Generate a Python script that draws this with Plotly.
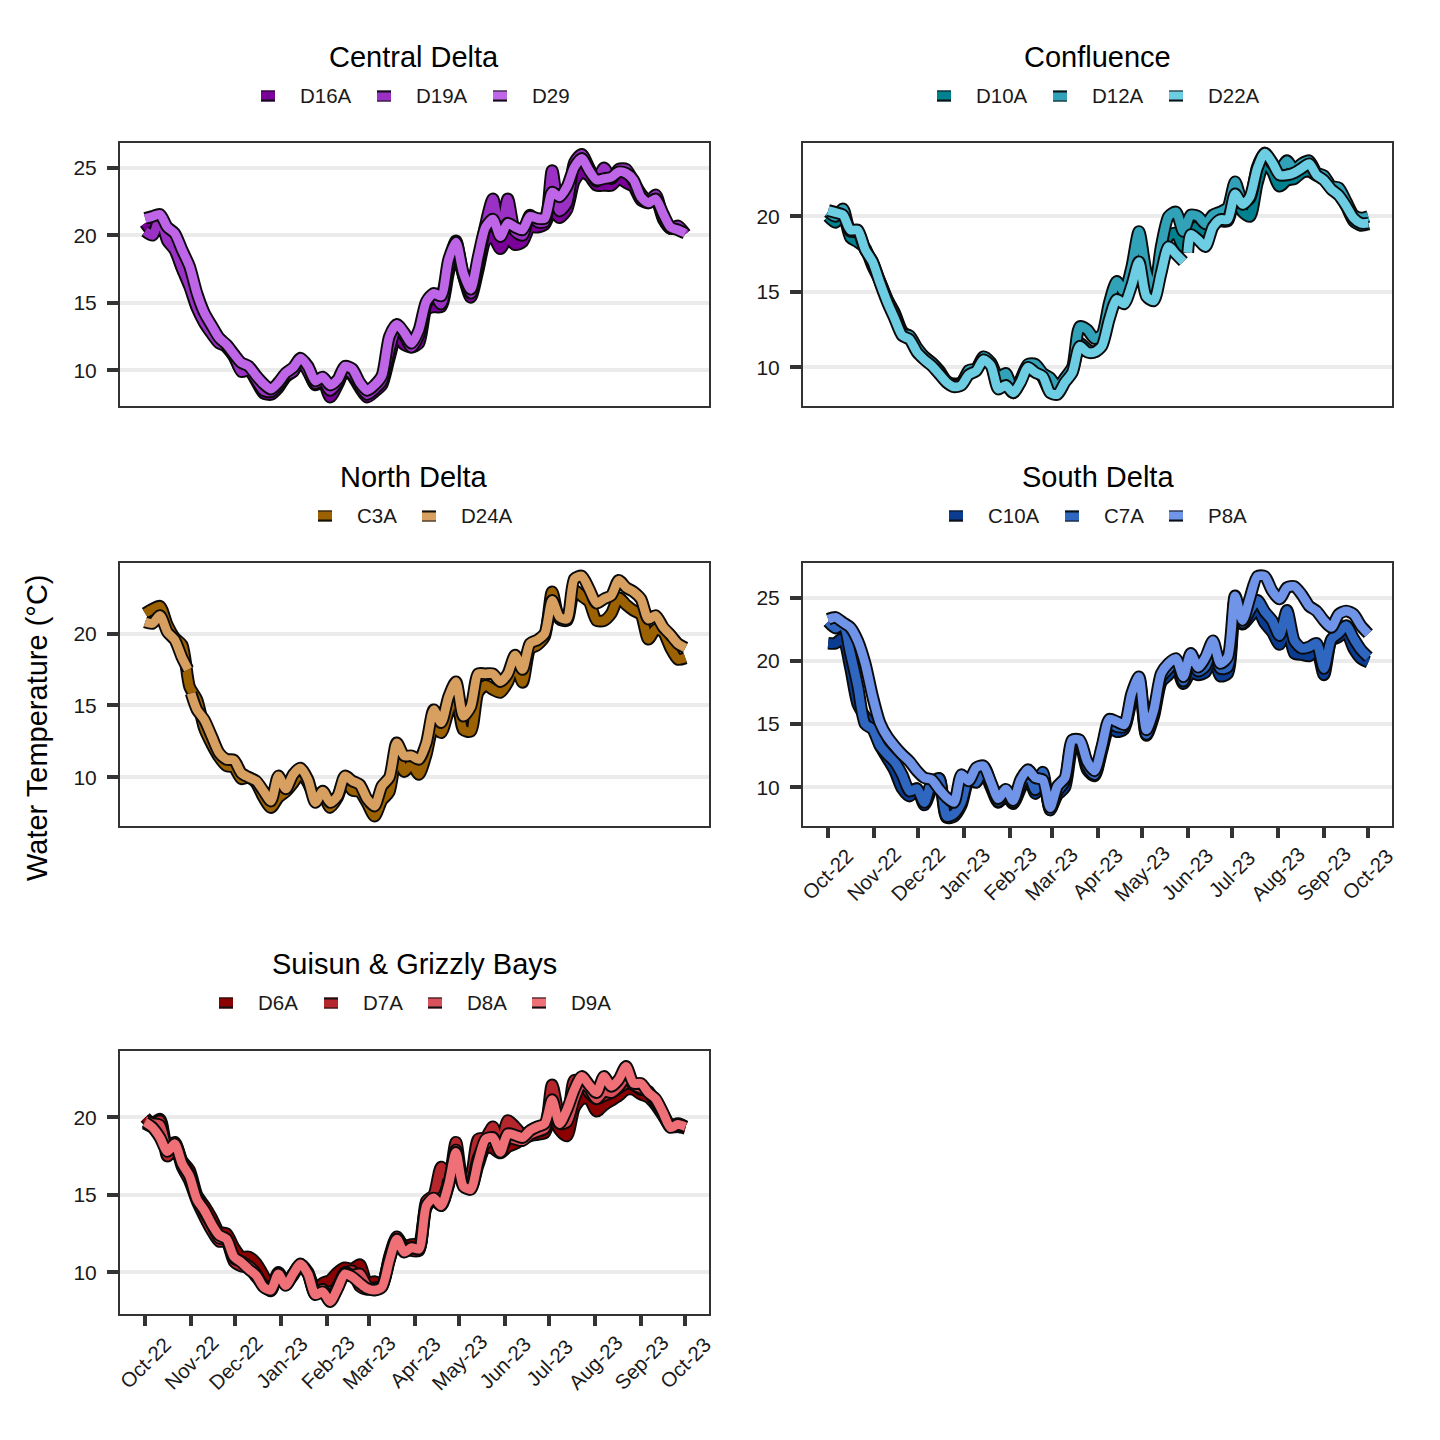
import datetime as dt
import plotly.graph_objects as go

START = dt.date(2022, 10, 1)
DAYS = list(range(0, 370, 5))
D22A_DAYS = list(range(0, 245, 5)) + [241, 243] + list(range(245, 370, 5))
D24A_DAYS = list(range(0, 30, 5)) + [29, 30, 31] + list(range(35, 370, 5))

MONTH_TICKS = ["2022-10-01","2022-11-01","2022-12-01","2023-01-01","2023-02-01","2023-03-01","2023-04-01","2023-05-01","2023-06-01","2023-07-01","2023-08-01","2023-09-01","2023-10-01"]
MONTH_LABELS = ["Oct-22","Nov-22","Dec-22","Jan-23","Feb-23","Mar-23","Apr-23","May-23","Jun-23","Jul-23","Aug-23","Sep-23","Oct-23"]

D16A = [20.9,20.3,21.0,19.9,19.2,17.6,16.9,15.2,13.8,12.9,12.2,11.7,11.0,10.0,10.1,9.2,8.3,8.2,8.7,9.5,9.9,10.7,10.0,8.9,9.2,8.0,8.9,10.0,9.6,8.7,8.0,8.4,8.9,10.9,12.6,11.9,11.7,12.0,14.5,14.7,14.7,17.2,19.2,17.0,15.4,17.4,19.6,19.9,19.0,19.8,19.3,19.5,20.6,20.6,20.8,21.9,21.3,21.9,24.0,24.7,24.4,23.7,23.7,23.7,24.2,23.9,23.6,22.6,22.4,22.7,21.2,20.5,20.6,20.1]
D19A = [20.3,20.0,21.3,19.6,18.9,17.5,16.2,14.6,13.5,12.7,12.0,11.8,11.1,9.9,10.0,9.3,8.5,8.4,8.9,9.6,9.9,10.8,9.9,9.0,9.3,8.5,9.1,10.0,9.7,8.9,8.2,8.6,9.2,11.5,13.2,12.6,11.7,12.6,14.9,15.6,14.9,17.6,19.6,17.0,15.7,17.9,20.8,22.7,20.0,22.7,20.3,20.0,21.5,21.0,21.0,24.8,21.8,22.4,25.4,26.0,25.0,24.0,25.0,24.2,24.9,24.9,24.0,23.1,22.5,23.0,21.3,20.5,20.7,20.1]
D29 = [21.25,21.4,21.55,20.6,20.15,18.9,17.7,15.7,14.25,13.3,12.4,11.9,11.2,10.55,10.3,9.6,9.0,8.6,9.1,9.8,10.2,10.9,10.3,9.2,9.5,8.9,9.3,10.3,10.1,9.1,8.5,8.9,9.6,12.5,13.4,12.8,12.0,13.0,15.1,15.7,15.5,18.2,19.5,17.2,16.0,18.4,20.6,21.2,19.9,20.9,20.6,20.4,21.4,21.25,21.25,23.2,22.85,23.6,25.05,25.7,24.8,24.1,24.2,24.3,24.7,24.6,24.1,22.85,22.4,22.7,21.6,20.6,20.4,20.15]

D10A = [20.0,19.6,20.2,18.6,18.3,17.9,16.7,15.7,14.5,13.6,12.4,12.0,11.2,10.7,10.3,9.8,9.1,8.9,9.0,9.7,9.9,10.6,10.2,8.7,8.9,8.3,9.1,10.1,9.9,9.3,8.4,8.4,9.1,9.7,11.6,11.2,11.0,11.5,13.5,14.8,14.6,15.6,17.6,15.2,14.8,16.8,18.7,18.9,18.0,19.1,19.3,19.0,19.6,19.7,19.7,21.4,20.3,20.0,22.2,23.6,23.0,22.0,22.4,22.5,22.9,23.0,22.7,22.6,21.9,21.6,20.7,19.7,19.4,19.5]
D12A = [20.3,20.0,20.5,19.0,19.0,17.8,17.0,15.7,14.5,13.5,12.2,12.1,11.3,10.7,10.3,9.7,9.0,8.8,8.9,9.8,9.9,10.7,10.3,9.3,9.6,8.5,9.2,10.2,10.2,9.6,9.3,8.7,9.3,10.0,12.7,12.5,11.9,12.2,14.3,15.7,15.0,16.6,19.0,16.3,15.0,18.0,20.0,20.3,19.0,20.1,20.0,19.5,20.1,20.3,20.6,22.3,21.0,21.2,23.3,24.2,23.5,23.1,23.7,23.1,23.5,23.7,22.9,22.7,22.0,21.9,21.0,20.1,19.9,20.0]
D22A = [20.4,20.26,20.1,19.1,19.1,17.8,17.0,15.6,14.3,13.2,12.1,11.85,11.0,10.5,10.1,9.55,9.0,8.7,8.8,9.5,9.75,10.5,10.1,8.55,8.8,8.3,9.0,10.0,9.65,9.4,8.3,8.2,9.0,9.65,11.4,11.0,11.0,11.4,13.2,14.5,14.2,15.4,17.0,14.7,14.4,16.25,18.0,17.5,17.0,None,17.6,18.8,18.45,18.0,19.3,19.8,19.8,21.5,20.8,21.3,23.2,24.2,23.6,22.75,22.75,22.9,23.2,23.5,22.75,22.4,21.8,21.4,20.7,19.9,19.55,19.55]

C3A = [21.4,21.7,21.9,20.6,19.7,19.2,16.3,15.4,13.4,12.3,11.4,10.8,10.7,9.9,10.0,9.6,8.6,7.9,8.6,9.0,9.6,10.3,9.6,8.6,8.8,7.9,8.6,9.9,9.1,9.0,8.2,7.3,8.4,9.0,11.6,10.4,10.9,10.2,11.6,13.6,13.1,14.6,15.8,13.3,13.2,15.9,16.4,16.1,15.9,16.6,17.9,16.6,18.9,19.2,19.8,22.9,21.0,20.9,23.0,22.6,22.2,20.9,20.9,21.4,22.5,22.0,21.6,21.3,19.6,20.3,20.1,19.0,18.2,18.3]
D24A = [20.8,20.7,21.25,20.1,19.55,18.3,17.5,None,15.85,14.7,14.0,12.85,11.7,11.25,11.2,10.3,10.0,9.75,9.05,8.35,10.1,9.2,10.2,10.65,9.85,8.25,9.05,8.25,8.7,10.1,9.75,9.5,8.5,8.0,9.4,10.0,12.4,11.5,11.5,11.25,12.4,14.7,13.8,15.6,16.65,14.25,14.9,17.2,17.2,17.2,16.65,17.2,18.5,17.5,19.3,19.55,20.0,22.3,21.15,21.0,23.8,24.0,23.1,22.1,22.4,22.65,23.7,23.2,22.9,22.4,21.0,21.25,20.45,19.9,19.3,19.0]

C10A = [21.4,21.4,21.8,19.5,16.6,15.6,14.9,13.3,12.3,11.3,9.9,9.3,9.9,8.6,9.9,10.7,7.6,7.7,8.6,10.5,10.4,11.3,10.0,8.8,9.4,8.7,9.9,11.0,9.5,10.9,8.3,9.4,10.0,13.1,13.5,11.4,10.9,12.9,14.8,14.4,14.6,16.9,18.4,14.1,15.6,18.3,18.9,19.6,18.2,19.1,18.9,19.1,20.7,18.8,19.0,24.4,22.9,23.5,24.1,23.0,22.3,21.3,22.9,20.6,20.5,20.4,20.9,18.9,21.6,21.9,22.3,21.0,20.2,19.9]
C7A = [23.1,22.6,23.0,20.6,18.0,15.0,14.6,13.3,12.6,12.0,11.0,9.7,9.9,8.8,10.4,10.7,7.7,7.9,8.8,10.7,10.4,11.6,10.3,8.9,9.7,8.8,10.2,11.2,9.8,11.2,8.2,9.7,10.5,13.5,13.6,11.7,11.0,13.1,15.1,14.8,14.8,17.1,18.6,14.2,15.8,18.7,19.4,20.0,18.4,20.3,19.2,19.6,21.2,19.4,19.5,25.0,23.0,24.0,24.8,23.9,23.2,22.0,24.0,21.6,21.0,21.1,21.4,19.4,21.7,22.2,22.8,21.8,20.9,20.3]
P8A = [23.3,23.45,23.05,22.65,21.6,19.8,17.2,15.1,14.0,13.25,12.6,12.05,11.3,10.75,10.6,9.85,9.2,8.8,11.0,10.5,11.55,11.7,10.4,9.1,9.85,8.95,10.6,11.4,10.75,10.6,8.4,10.1,10.75,13.75,13.75,12.05,11.3,13.25,15.4,15.2,14.95,17.4,18.75,14.55,16.1,19.0,19.8,20.2,18.75,20.6,19.5,20.3,21.6,19.8,20.3,25.15,23.2,25.0,26.7,26.7,25.55,24.9,25.8,25.9,25.25,24.35,23.95,23.2,22.65,23.7,23.95,23.7,22.8,22.15]

D6A = [20.0,19.6,19.9,18.1,18.3,17.2,16.6,15.0,14.3,13.5,12.6,12.5,11.6,11.0,11.0,10.6,9.8,9.0,10.0,9.3,9.8,10.5,10.0,8.9,9.3,9.5,10.0,10.3,10.2,10.5,9.3,9.4,9.2,10.9,12.2,11.7,11.8,11.9,14.3,14.7,14.3,15.6,17.7,15.7,15.4,16.9,18.1,18.0,17.7,18.1,18.3,18.6,18.8,18.9,19.0,20.2,19.2,18.8,20.6,21.2,21.2,20.4,20.8,21.1,21.4,21.8,21.8,21.5,21.3,20.8,20.1,19.4,19.4,19.3]
D7A = [19.6,19.4,19.8,17.5,18.2,16.8,15.9,14.6,13.6,12.7,12.0,12.0,10.7,10.4,10.3,9.7,9.2,8.8,9.9,9.3,9.9,10.5,9.9,8.6,8.9,8.2,9.1,9.9,10.1,9.1,8.9,9.0,9.1,11.0,12.3,11.6,11.4,11.4,14.6,15.0,16.8,16.0,18.4,15.8,16.2,18.6,18.7,19.4,18.1,19.8,19.4,18.9,19.1,19.1,19.3,22.1,20.2,20.0,22.4,22.3,21.6,21.2,21.4,21.6,21.9,22.2,22.1,21.8,21.7,20.9,20.2,19.5,19.6,19.4]
D8A = [19.8,19.6,19.5,17.9,18.4,17.1,16.3,14.9,13.9,13.1,12.2,12.1,10.9,10.7,10.4,9.9,9.1,8.9,9.8,9.2,9.9,10.5,10.0,8.6,8.9,8.2,9.0,10.0,9.8,9.9,9.1,8.9,9.1,10.8,12.1,11.4,11.6,11.5,14.2,14.7,14.8,15.7,17.9,15.6,15.7,17.4,18.3,18.7,17.9,18.7,18.6,18.5,18.9,19.1,19.3,20.9,19.6,19.7,21.2,22.2,21.9,21.2,21.7,21.6,22.0,22.6,22.1,21.9,21.6,21.1,20.2,19.4,19.5,19.4]
D9A = [19.7,19.35,18.7,17.8,18.3,17.0,16.2,14.7,14.0,13.1,12.4,12.15,11.0,10.65,10.2,9.8,9.05,8.85,9.9,9.15,9.9,10.55,9.9,8.55,8.75,8.1,8.95,9.9,9.7,9.3,8.95,8.85,9.05,10.75,12.15,11.3,11.6,11.5,14.3,14.8,14.3,15.65,17.75,15.55,15.35,17.15,18.6,18.7,17.75,18.95,18.85,18.7,19.15,19.4,19.6,21.15,19.6,20.5,21.8,22.65,22.1,21.6,22.65,22.0,22.45,23.3,22.2,22.2,21.6,21.2,20.3,19.35,19.55,19.4]

FONT = "Liberation Sans"
INK = "#333333"

PANELS = [
    dict(title="Central Delta", box=(119, 710, 142, 407), yr=(7.35, 26.84), yt=[10, 15, 20, 25], xlab=False, legy=96,
         series=[("D16A", D16A, DAYS, "#7a0099", 300), ("D19A", D19A, DAYS, "#9b30c4", 416), ("D29", D29, DAYS, "#bf66e8", 532)]),
    dict(title="Confluence", box=(802, 1393, 142, 407), yr=(7.43, 24.87), yt=[10, 15, 20], xlab=False, legy=96,
         series=[("D10A", D10A, DAYS, "#00818f", 976), ("D12A", D12A, DAYS, "#31a2b8", 1092), ("D22A", D22A, D22A_DAYS, "#6dcde3", 1208)]),
    dict(title="North Delta", box=(119, 710, 562, 827), yr=(6.62, 24.9), yt=[10, 15, 20], xlab=False, legy=516,
         series=[("C3A", C3A, DAYS, "#9c6100", 357), ("D24A", D24A, D24A_DAYS, "#d8a060", 461)]),
    dict(title="South Delta", box=(802, 1393, 562, 827), yr=(6.94, 27.75), yt=[10, 15, 20, 25], xlab=True, legy=516,
         series=[("C10A", C10A, DAYS, "#0a3d91", 988), ("C7A", C7A, DAYS, "#2f66c0", 1104), ("P8A", P8A, DAYS, "#6f94e8", 1208)]),
    dict(title="Suisun & Grizzly Bays", box=(119, 710, 1050, 1315), yr=(7.31, 24.29), yt=[10, 15, 20], xlab=True, legy=1003,
         series=[("D6A", D6A, DAYS, "#8b0000", 258), ("D7A", D7A, DAYS, "#b5272c", 363), ("D8A", D8A, DAYS, "#d9505a", 467), ("D9A", D9A, DAYS, "#f07078", 571)]),
]

W = H = 1440
fig = go.Figure()
shapes, annots = [], []


def dates(days):
    return [START + dt.timedelta(days=d) for d in days]


for i, p in enumerate(PANELS, start=1):
    xa, ya = ("x", "y") if i == 1 else (f"x{i}", f"y{i}")
    l, r, t, b = p["box"]
    fig.update_layout({
        f"xaxis{'' if i == 1 else i}": dict(
            domain=[(l + 1) / W, (r - 1) / W], range=["2022-09-14", "2023-10-17"], type="date", anchor=ya, automargin=False,
            showgrid=False, zeroline=False, showline=True, mirror=True, linewidth=2, linecolor=INK,
            tickvals=MONTH_TICKS, showticklabels=False,
            ticks="outside" if p["xlab"] else "", ticklen=10, tickwidth=4, tickcolor=INK),
        f"yaxis{'' if i == 1 else i}": dict(
            domain=[1 - (b - 1) / H, 1 - (t + 1) / H], range=list(p["yr"]), anchor=xa, tickvals=p["yt"], automargin=False,
            showgrid=True, gridcolor="#ebebeb", gridwidth=4, zeroline=False,
            showline=True, mirror=True, linewidth=2, linecolor=INK,
            ticks="outside", ticklen=11, tickwidth=4, tickcolor=INK, ticklabelstandoff=6,
            tickfont=dict(family=FONT, size=21, color="#1a1a1a")),
    })
    cx = (l + r) / 2
    annots.append(dict(text=p["title"], x=cx / W, y=1 - (p["legy"] - 39) / H, xref="paper", yref="paper",
                       xanchor="center", yanchor="middle", showarrow=False,
                       font=dict(family=FONT, size=29, color="black")))
    if p["xlab"]:
        for tick, label in zip(MONTH_TICKS, MONTH_LABELS):
            annots.append(dict(text=label, x=tick, y=1 - (b + 47) / H, xref=xa, yref="paper",
                               xanchor="center", yanchor="middle", textangle=-45, showarrow=False,
                               font=dict(family=FONT, size=20.5, color="#1a1a1a")))
    for k, (name, vals, days, colour, text_x) in enumerate(p["series"]):
        assert len(vals) == len(days), name
        xs = dates(days)
        fig.add_trace(go.Scatter(x=xs, y=vals, mode="lines", xaxis=xa, yaxis=ya, showlegend=False, hoverinfo="skip",
                                 line=dict(color="#0a0a0a", width=12.6, shape="spline", smoothing=0.7)))
        fig.add_trace(go.Scatter(x=xs, y=vals, mode="lines", name=name, xaxis=xa, yaxis=ya, showlegend=False,
                                 line=dict(color=colour, width=8.8, shape="spline", smoothing=0.7)))
        annots.append(dict(text=name, x=(text_x - 2) / W, y=1 - (p["legy"] - 0.5) / H, xref="paper", yref="paper",
                           xanchor="left", yanchor="middle", showarrow=False,
                           font=dict(family=FONT, size=20.5, color="#1a1a1a")))
        sx, sy = text_x - 32, p["legy"]
        shapes.append(dict(type="rect", xref="paper", yref="paper", line=dict(width=0), fillcolor=colour,
                           x0=(sx - 7) / W, x1=(sx + 7) / W, y0=1 - (sy + 5.5) / H, y1=1 - (sy - 5.5) / H))
        top, bot = (1, 2) if k != 1 else (2, 1)
        shapes.append(dict(type="rect", xref="paper", yref="paper", line=dict(width=0), fillcolor="#111111",
                           x0=(sx - 7) / W, x1=(sx + 7) / W, y0=1 - (sy - 5.5 + top) / H, y1=1 - (sy - 5.5) / H))
        shapes.append(dict(type="rect", xref="paper", yref="paper", line=dict(width=0), fillcolor="#111111",
                           x0=(sx - 7) / W, x1=(sx + 7) / W, y0=1 - (sy + 5.5) / H, y1=1 - (sy + 5.5 - bot) / H))

annots.append(dict(text="Water Temperature (°C)", x=37 / W, y=1 - 728 / H, xref="paper", yref="paper",
                   xanchor="center", yanchor="middle", textangle=-90, showarrow=False,
                   font=dict(family=FONT, size=29, color="black")))

fig.update_layout(width=W, height=H, margin=dict(l=0, r=0, t=0, b=0), showlegend=False,
                  paper_bgcolor="white", plot_bgcolor="white", shapes=shapes, annotations=annots,
                  font=dict(family=FONT))
fig.write_html("out.html", config={"displayModeBar": False}, post_script="document.body.style.margin='0';")
